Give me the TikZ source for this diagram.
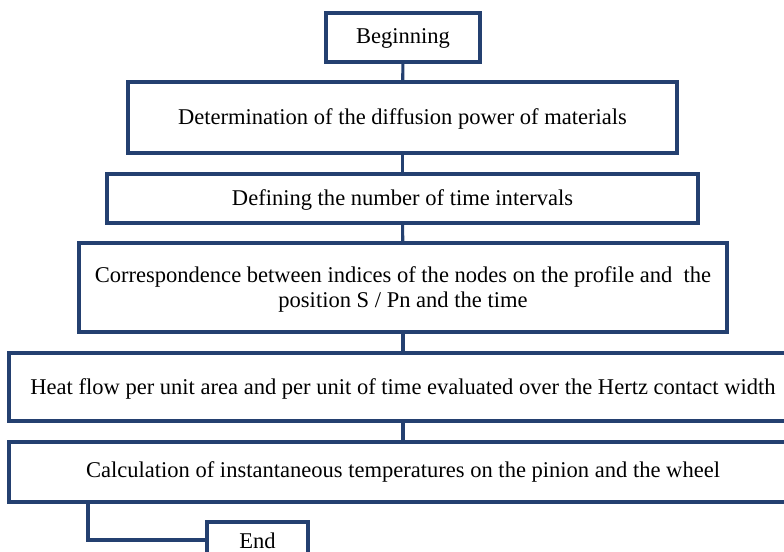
\documentclass[tikz,border=0pt]{standalone}
\usepackage{fontspec}
\setmainfont{Liberation Serif}
\definecolor{boxblue}{RGB}{36,64,112}
\tikzset{
  flowbox/.style={draw=boxblue, line width=2.3pt, fill=white, inner sep=0pt,
    align=center, font=\fontsize{16.9}{18.75}\selectfont, text=black},
  flowtext/.style={font=\fontsize{16.9}{18.75}\selectfont, inner sep=0pt, align=center},
  link/.style={draw=boxblue, line width=2.3pt},
}
\begin{document}
\begin{tikzpicture}[x=0.75pt,y=-0.75pt]
\useasboundingbox (0,0) rectangle (784,552);
\clip (0,0) rectangle (784,552);
\node[flowbox, minimum width=115.5pt, minimum height=36.75pt] (b1) at (403,37.5) {};
\node[flowtext] (t1) at (403,38.5) {Beginning};
\node[flowbox, minimum width=411.75pt, minimum height=53.25pt] (b2) at (402.5,117.5) {};
\node[flowtext] (t2) at (402.5,119) {Determination of the diffusion power of materials};
\node[flowbox, minimum width=443.25pt, minimum height=36.75pt] (b3) at (402.5,198.5) {};
\node[flowtext] (t3) at (402.5,199.5) {Defining the number of time intervals};
\node[flowbox, minimum width=486pt, minimum height=66.75pt] (b4) at (403,287.5) {};
\node[flowtext] (t4) at (403,289.5) {Correspondence between indices of the nodes on the profile and \ the\\position S / Pn and the time};
\node[flowbox, minimum width=591pt, minimum height=51pt] (b5) at (403,387) {};
\node[flowtext] (t5) at (403,388.5) {Heat flow per unit area and per unit of time evaluated over the Hertz contact width};
\node[flowbox, minimum width=591pt, minimum height=45pt] (b6) at (403,472) {};
\node[flowtext] (t6) at (403,471.5) {Calculation of instantaneous temperatures on the pinion and the wheel};
\node[flowbox, minimum width=75.75pt, minimum height=36pt] (end) at (257.5,546) {};
\node[flowtext] (tend) at (257.5,541) {End};
\coordinate (c1) at (88,502);
\coordinate (c2) at (88,540);
\draw[link] (b1) -- (b2);
\draw[link] (b2) -- (b3);
\draw[link] (b3) -- (b4);
\draw[link] (b4) -- (b5);
\draw[link] (b5) -- (b6);
\draw[link] (c1 |- b6.south) -- (c2) -- (c2 -| end.west);
\end{tikzpicture}
\end{document}
